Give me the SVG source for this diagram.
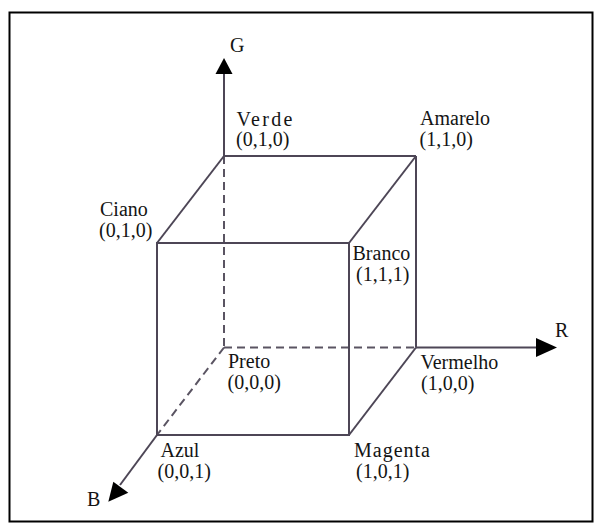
<svg xmlns="http://www.w3.org/2000/svg" width="596" height="526" viewBox="0 0 596 526">
<style>
.lbl{font-family:"Liberation Serif","Times New Roman",serif;font-size:20px;fill:#141414}
.edge{stroke:#4d4656;stroke-width:2;fill:none}
.dash{stroke:#5a5462;stroke-width:2;fill:none;stroke-dasharray:8 5}
.head{fill:#000}
</style>
<rect x="0" y="0" width="596" height="526" fill="#fff"/>
<rect x="9.5" y="12.5" width="583" height="509" fill="none" stroke="#000" stroke-width="2"/>
<g id="connectors">
  <line class="dash" x1="224" y1="156" x2="224" y2="347.5"/>
  <line class="dash" x1="224" y1="347.5" x2="416" y2="347.5"/>
  <line class="dash" x1="224" y1="347.5" x2="157" y2="435"/>
  <line class="edge" x1="224" y1="156" x2="416" y2="156"/>
  <line class="edge" x1="416" y1="156" x2="416" y2="347.5"/>
  <line class="edge" x1="224" y1="156" x2="157" y2="243"/>
  <line class="edge" x1="416" y1="156" x2="349" y2="243"/>
  <line class="edge" x1="416" y1="347.5" x2="349" y2="435"/>
  <rect class="edge" x="157" y="243" width="192" height="192"/>
  <line class="edge" x1="224" y1="156" x2="224" y2="72"/>
  <polygon class="head" points="224,58 215.5,74 232.5,74"/>
  <line class="edge" x1="416" y1="347.5" x2="538" y2="347.5"/>
  <polygon class="head" points="557,347.5 536,338 536,357"/>
  <line class="edge" x1="157" y1="435" x2="120" y2="485"/>
  <polygon class="head" points="108.3,501.7 113.3,481.7 128.3,492.7"/>
</g>
<g id="axis-G"><text class="lbl" x="230" y="52">G</text></g>
<g id="axis-R"><text class="lbl" x="555" y="337">R</text></g>
<g id="axis-B"><text class="lbl" x="87" y="506">B</text></g>
<g id="verde"><text class="lbl" x="236.5" y="125.5" textLength="56" lengthAdjust="spacing">Verde</text><text class="lbl" x="236" y="146">(0,1,0)</text></g>
<g id="amarelo"><text class="lbl" x="420" y="125">Amarelo</text><text class="lbl" x="419.5" y="146">(1,1,0)</text></g>
<g id="ciano"><text class="lbl" x="100" y="216">Ciano</text><text class="lbl" x="99" y="237">(0,1,0)</text></g>
<g id="branco"><text class="lbl" x="352.5" y="260">Branco</text><text class="lbl" x="356" y="281">(1,1,1)</text></g>
<g id="preto"><text class="lbl" x="228" y="368">Preto</text><text class="lbl" x="227.5" y="389">(0,0,0)</text></g>
<g id="vermelho"><text class="lbl" x="420.5" y="368.5">Vermelho</text><text class="lbl" x="421" y="389.5">(1,0,0)</text></g>
<g id="azul"><text class="lbl" x="160.5" y="456.5">Azul</text><text class="lbl" x="157.5" y="477.5">(0,0,1)</text></g>
<g id="magenta"><text class="lbl" x="354" y="457" textLength="76" lengthAdjust="spacing">Magenta</text><text class="lbl" x="356" y="478">(1,0,1)</text></g>
</svg>
